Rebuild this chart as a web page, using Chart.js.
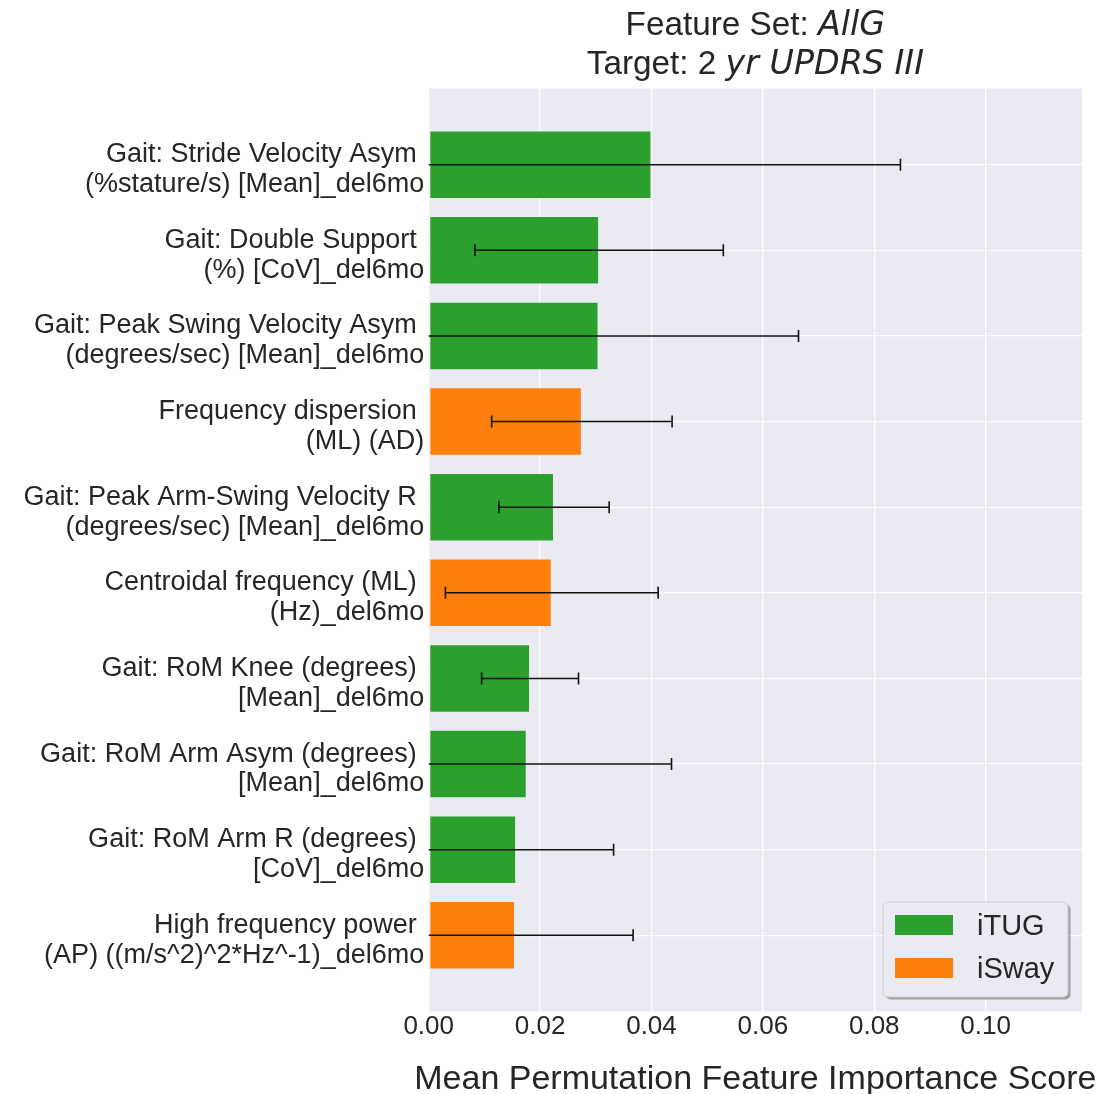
<!DOCTYPE html>
<html>
<head>
<meta charset="utf-8">
<script src="https://cdn.jsdelivr.net/npm/chart.js@4.4.1/dist/chart.umd.min.js"></script>
<style>
  html, body { margin: 0; padding: 0; background: #ffffff; }
  #wrap { width: 1118px; height: 1094px; position: relative; }
</style>
</head>
<body>
<div id="wrap"><canvas id="chart" width="1118" height="1094"></canvas></div>
<script>
// Feature labels, top to bottom (first line keeps its trailing space)
const featureLabels = [
  ["Gait: Stride Velocity Asym ", "(%stature/s) [Mean]_del6mo"],
  ["Gait: Double Support ", "(%) [CoV]_del6mo"],
  ["Gait: Peak Swing Velocity Asym ", "(degrees/sec) [Mean]_del6mo"],
  ["Frequency dispersion ", "(ML) (AD)"],
  ["Gait: Peak Arm-Swing Velocity R ", "(degrees/sec) [Mean]_del6mo"],
  ["Centroidal frequency (ML) ", "(Hz)_del6mo"],
  ["Gait: RoM Knee (degrees) ", "[Mean]_del6mo"],
  ["Gait: RoM Arm Asym (degrees) ", "[Mean]_del6mo"],
  ["Gait: RoM Arm R (degrees) ", "[CoV]_del6mo"],
  ["High frequency power ", "(AP) ((m/s^2)^2*Hz^-1)_del6mo"]
];
// Which test each feature comes from
const featureSource = ["iTUG", "iTUG", "iTUG", "iSway", "iTUG", "iSway", "iTUG", "iTUG", "iTUG", "iSway"];
// Mean permutation importance and its standard deviation
const meanImportance = [0.0400, 0.0306, 0.0305, 0.0275, 0.0225, 0.0221, 0.0182, 0.0176, 0.0157, 0.0155];
const stdImportance  = [0.0447, 0.0223, 0.0359, 0.0162, 0.0099, 0.0191, 0.0087, 0.0260, 0.0175, 0.0212];
// Axis ticks
const xTickValues = [0.00, 0.02, 0.04, 0.06, 0.08, 0.10];
const legendNames = ["iTUG", "iSway"];
const sourceColors = { iTUG: "#2ca02c", iSway: "#ff7f0e" };

const TEXT = "#262626";
const SANS = "'Liberation Sans', Arial, sans-serif";
const OBLIQUE = "'DejaVu Sans', sans-serif";

// Axes background (seaborn darkgrid look)
const panelBackground = {
  id: "panelBackground",
  beforeDraw(chart) {
    const { ctx, chartArea: a } = chart;
    ctx.save();
    ctx.fillStyle = "#eaeaf2";
    ctx.fillRect(a.left, a.top, a.right - a.left, a.bottom - a.top);
    ctx.restore();
  }
};

// Horizontal error bars, clipped to the plotting area
const errorBars = {
  id: "errorBars",
  afterDatasetsDraw(chart) {
    const { ctx, chartArea: a, scales: { x, y } } = chart;
    ctx.save();
    ctx.beginPath();
    ctx.rect(a.left, a.top, a.right - a.left, a.bottom - a.top);
    ctx.clip();
    ctx.strokeStyle = "#111111";
    ctx.lineWidth = 1.6;
    const cap = 6;
    meanImportance.forEach((m, i) => {
      const py = y.getPixelForValue(i);
      const x0 = x.getPixelForValue(m - stdImportance[i]);
      const x1 = x.getPixelForValue(m + stdImportance[i]);
      ctx.beginPath();
      ctx.moveTo(x0, py); ctx.lineTo(x1, py);
      ctx.moveTo(x0, py - cap); ctx.lineTo(x0, py + cap);
      ctx.moveTo(x1, py - cap); ctx.lineTo(x1, py + cap);
      ctx.stroke();
    });
    ctx.restore();
  }
};

// Two-line title with italic (mathtext-style) parts, axis title and framed legend
const annotations = {
  id: "annotations",
  afterDraw(chart) {
    const { ctx, chartArea: a } = chart;
    const cx = (a.left + a.right) / 2;
    const size = 33.3;
    const lines = [
      { y: 35, parts: [["Feature Set: ", false], ["AllG", true]] },
      { y: 74, parts: [["Target: 2 ", false], ["yr UPDRS III", true]] }
    ];
    ctx.save();
    ctx.fillStyle = TEXT;
    ctx.textBaseline = "alphabetic";
    ctx.textAlign = "left";
    lines.forEach(line => {
      const widths = line.parts.map(([t, it]) => {
        ctx.font = (it ? "italic " : "") + size + "px " + (it ? OBLIQUE : SANS);
        return ctx.measureText(t).width;
      });
      let xPos = cx - widths.reduce((s, w) => s + w, 0) / 2;
      line.parts.forEach(([t, it], k) => {
        ctx.font = (it ? "italic " : "") + size + "px " + (it ? OBLIQUE : SANS);
        ctx.fillText(t, xPos, line.y);
        xPos += widths[k];
      });
    });

    // x-axis title
    ctx.font = "34px " + SANS;
    ctx.textAlign = "center";
    ctx.fillText("Mean Permutation Feature Importance Score", cx, 1089);

    // legend box
    const bx = 883, by = 902, bw = 185, bh = 95, r = 5;
    const rr = (x0, y0) => {
      ctx.beginPath();
      ctx.moveTo(x0 + r, y0);
      ctx.arcTo(x0 + bw, y0, x0 + bw, y0 + bh, r);
      ctx.arcTo(x0 + bw, y0 + bh, x0, y0 + bh, r);
      ctx.arcTo(x0, y0 + bh, x0, y0, r);
      ctx.arcTo(x0, y0, x0 + bw, y0, r);
      ctx.closePath();
    };
    rr(bx + 2.5, by + 2.5);
    ctx.fillStyle = "rgba(100,100,100,0.55)";
    ctx.fill();
    rr(bx, by);
    ctx.fillStyle = "#eaeaf2";
    ctx.fill();
    ctx.strokeStyle = "#cfcfcf";
    ctx.lineWidth = 1;
    ctx.stroke();

    ctx.font = "29px " + SANS;
    ctx.textAlign = "left";
    legendNames.forEach((name, k) => {
      const top = 915 + k * 43;
      ctx.fillStyle = sourceColors[name];
      ctx.fillRect(895, top, 58, 20);
      ctx.fillStyle = TEXT;
      ctx.fillText(name, 977, top + 20);
    });
    ctx.restore();
  }
};

const chart = new Chart(document.getElementById("chart"), {
  type: "bar",
  data: {
    datasets: [{
      label: "importance",
      data: meanImportance.map((v, i) => ({ x: v, y: i })),
      backgroundColor: featureSource.map(s => sourceColors[s]),
      borderColor: "rgba(255,255,255,0.25)",
      borderWidth: 1,
      borderSkipped: false,
      barPercentage: 0.8,
      categoryPercentage: 1.0
    }]
  },
  options: {
    indexAxis: "y",
    responsive: false,
    animation: false,
    devicePixelRatio: 1,
    layout: { padding: { top: 88.5, right: 36, left: 0, bottom: 0 } },
    plugins: {
      legend: { display: false },
      tooltip: { enabled: false },
      title: { display: false }
    },
    scales: {
      x: {
        type: "linear",
        position: "bottom",
        min: 0,
        max: 0.1173,
        afterBuildTicks(scale) { scale.ticks = xTickValues.map(v => ({ value: v })); },
        afterFit(scale) { scale.height = 82.5; },
        ticks: {
          callback: v => v.toFixed(2),
          color: TEXT,
          font: { family: SANS, size: 26, lineHeight: 1.2 },
          padding: 0,
          maxRotation: 0
        },
        grid: { color: "#ffffff", lineWidth: 1.3, drawTicks: false },
        border: { display: false }
      },
      y: {
        type: "linear",
        position: "left",
        reverse: true,
        offset: false,
        min: -0.89,
        max: 9.89,
        afterBuildTicks(scale) { scale.ticks = featureLabels.map((_, i) => ({ value: i })); },
        afterFit(scale) { scale.width = 428.7; },
        ticks: {
          callback: v => featureLabels[v],
          color: TEXT,
          font: { family: SANS, size: 27, lineHeight: 1.11 },
          padding: 4.5,
          labelOffset: 5,
          crossAlign: "near"
        },
        grid: { color: "#ffffff", lineWidth: 1.3, drawTicks: false, offset: false },
        border: { display: false }
      }
    }
  },
  plugins: [panelBackground, errorBars, annotations]
});
</script>
</body>
</html>
